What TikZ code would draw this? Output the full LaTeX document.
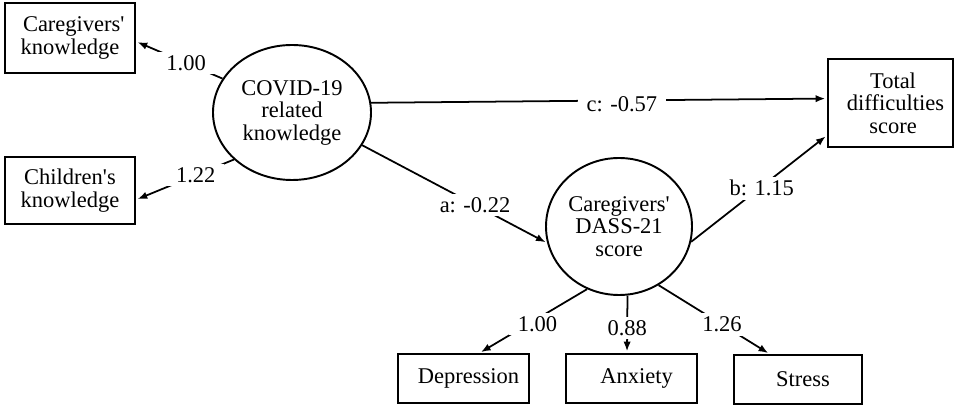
\documentclass[tikz,border=0pt]{standalone}
\usepackage{fontspec}
\setmainfont{Liberation Serif}[Ligatures=TeXOff]
\usepackage{tikz}
\usetikzlibrary{shapes.geometric,arrows.meta}

\begin{document}
\begin{tikzpicture}[x=0.2mm,y=-0.2mm,
		font=\fontsize{12.8}{12.8}\selectfont,
		obs/.style={draw,line width=1.1pt,rectangle,align=center,inner sep=0pt},
		lat/.style={draw,line width=1.1pt,ellipse,align=center,inner sep=0pt},
		path/.style={-{Latex[length=5.5pt,width=4.2pt]},line width=1pt,shorten >=1pt},
		lbl/.style={fill=white,inner xsep=5pt,inner ysep=2pt}]
			\useasboundingbox (0,0) rectangle (957,408);
			\node[obs,minimum width=26mm,minimum height=14mm] (cgk) at (70,38) {\hspace*{1.5mm}Caregivers'\\knowledge};
			\node[obs,minimum width=26mm,minimum height=13.4mm] (chk) at (70,190.5) {Children's\\knowledge};
			\node[lat,minimum width=31.6mm,minimum height=27mm] (covid) at (292,112.5) {COVID-19\\related\\knowledge};
			\node[obs,minimum width=25mm,minimum height=17.6mm] (tdf) at (890.5,103) {\hspace*{1mm}Total\\\hspace*{2mm}difficulties\\\hspace*{1mm}score};
			\node[lat,minimum width=29.2mm,minimum height=27.4mm] (dass) at (619,226.5) {Caregivers'\\DASS-21\\score};
			\node[obs,minimum width=26.2mm,minimum height=9.8mm] (dep) at (463.5,378.5) {\hspace*{2mm}Depression};
			\node[obs,minimum width=26.2mm,minimum height=9.8mm] (anx) at (631.5,378.5) {\hspace*{2mm}Anxiety};
			\node[obs,minimum width=25.6mm,minimum height=9.8mm] (str) at (798,379.5) {\hspace*{2mm}Stress};

			\draw[path] (covid.154) -- node[lbl,pos=.42]{1.00} (cgk.-3);
			\draw[path] (covid.219) -- node[lbl,pos=.39]{1.22} (chk.-8);
			\draw[path] (covid.7) -- node[lbl,pos=.55,yshift=-2pt]{c: -0.57} (tdf.176);
			\draw[path] (covid.-25) -- node[lbl,pos=.61]{a: -0.22} (dass.193);
			\draw[path] (dass.-12) -- node[lbl,pos=.52,yshift=-1pt]{b: 1.15} (tdf.207);
			\draw[path] (dass.243) -- node[lbl,pos=.46,yshift=-3pt]{1.00} (dep.58);
			\draw[path] (dass.-83) -- node[lbl,pos=.56]{0.88} (anx.100);
			\draw[path] (dass.-56) -- node[lbl,pos=.57]{1.26} (str.138);
		\end{tikzpicture}
\end{document}
